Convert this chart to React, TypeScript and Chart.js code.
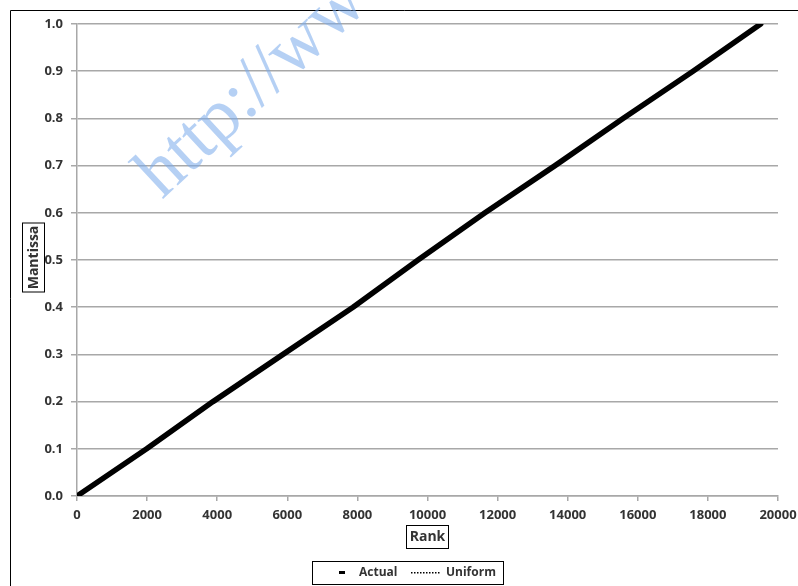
import React, { useEffect, useRef } from "react";
import { Chart, registerables } from "chart.js";

Chart.register(...registerables);

const actualRank = [0, 1988, 3880, 5877, 7875, 9729, 11640, 13638, 15578, 17575, 19506];
const actualMantissa = [0, 0.1, 0.2, 0.3, 0.4, 0.5, 0.6, 0.7, 0.8, 0.9, 1.0];
const uniformRank = [0, 19506];
const uniformMantissa = [0, 1.0];
const xTitle = "Rank";
const yTitle = "Mantissa";
const seriesNames = ["Actual", "Uniform"];
const watermark = "http://www.";

const FONT = "'Open Sans', sans-serif";

const decorPlugin = {
  id: "decor",
  afterDraw(chart: any) {
    const ctx = chart.ctx as CanvasRenderingContext2D;
    ctx.save();
    // outer border
    ctx.strokeStyle = "#000";
    ctx.lineWidth = 1;
    ctx.beginPath();
    ctx.moveTo(10.5, 600);
    ctx.lineTo(10.5, 10.5);
    ctx.lineTo(800, 10.5);
    ctx.stroke();

    // watermark
    ctx.save();
    ctx.translate(162, 200);
    ctx.rotate((-43 * Math.PI) / 180);
    ctx.font = "74px 'Liberation Serif', serif";
    ctx.fillStyle = "rgba(120,170,235,0.55)";
    ctx.textBaseline = "alphabetic";
    ctx.fillText(watermark, 0, 0);
    ctx.restore();

    ctx.fillStyle = "#333";
    ctx.strokeStyle = "#000";
    ctx.lineWidth = 1;

    // x title box
    ctx.font = `bold 14px ${FONT}`;
    ctx.textAlign = "center";
    ctx.textBaseline = "middle";
    const xa = chart.chartArea;
    const cx = (xa.left + xa.right) / 2;
    ctx.strokeRect(406.5, 525.5, 42, 23);
    ctx.fillText(xTitle, cx, 537.5);

    // y title box (rotated)
    ctx.save();
    ctx.translate(33, 257.5);
    ctx.rotate(-Math.PI / 2);
    ctx.strokeRect(-34.5, -10.5, 69, 22);
    ctx.fillText(yTitle, 0, 1);
    ctx.restore();

    // legend box
    ctx.strokeRect(312.5, 561.5, 191, 23);
    ctx.fillStyle = "#000";
    ctx.fillRect(339, 571, 6, 3);
    ctx.font = `bold 12px ${FONT}`;
    ctx.textAlign = "left";
    ctx.fillStyle = "#333";
    ctx.fillText(seriesNames[0], 359, 573);
    ctx.fillStyle = "#000";
    for (let x = 411; x < 441; x += 3) ctx.fillRect(x, 572, 1.5, 1.5);
    ctx.fillStyle = "#333";
    ctx.fillText(seriesNames[1], 446, 573);
    ctx.restore();
  },
};

export default function App() {
  const ref = useRef<HTMLCanvasElement | null>(null);
  useEffect(() => {
    document.body.style.margin = "0";
    const chart = new Chart(ref.current as HTMLCanvasElement, {
      type: "scatter",
      data: {
        datasets: [
          {
            label: seriesNames[1],
            data: uniformRank.map((x, i) => ({ x, y: uniformMantissa[i] })),
            showLine: true,
            borderColor: "#000",
            borderWidth: 1,
            borderDash: [1, 2],
            pointRadius: 0,
            order: 2,
          },
          {
            label: seriesNames[0],
            data: actualRank.map((x, i) => ({ x, y: actualMantissa[i] })),
            showLine: true,
            borderColor: "#000",
            borderWidth: 5.5,
            borderCapStyle: "round",
            borderJoinStyle: "round",
            pointRadius: 0,
            order: 1,
          },
        ],
      },
      options: {
        animation: false,
        responsive: false,
        maintainAspectRatio: false,
        layout: { padding: { left: 0, top: 24, right: 20, bottom: 0 } },
        plugins: { legend: { display: false }, tooltip: { enabled: false } },
        scales: {
          x: {
            type: "linear",
            min: 0,
            max: 20000,
            afterFit: (s: any) => {
              s.height = 90;
              s.paddingLeft = 0;
              s.paddingRight = 0;
            },
            ticks: {
              stepSize: 2000,
              maxRotation: 0,
              padding: 6,
              color: "#333",
              font: { family: FONT, size: 13, weight: "bold" },
              callback: (v: any) => String(v),
            },
            grid: {
              drawOnChartArea: false,
              drawTicks: true,
              tickLength: 5,
              color: "#a8a8a8",
              lineWidth: 1.5,
            },
            border: { display: true, color: "#a8a8a8", width: 1.5 },
          },
          y: {
            type: "linear",
            min: 0,
            max: 1,
            afterFit: (s: any) => {
              s.width = 77;
              s.paddingTop = 0;
              s.paddingBottom = 0;
            },
            ticks: {
              stepSize: 0.1,
              padding: 8,
              color: "#333",
              font: { family: FONT, size: 13, weight: "bold" },
              callback: (v: any) => Number(v).toFixed(1),
            },
            grid: {
              drawOnChartArea: true,
              drawTicks: true,
              tickLength: 6,
              color: "#a8a8a8",
              lineWidth: 1.5,
            },
            border: { display: true, color: "#a8a8a8", width: 1.5 },
          },
        },
      },
      plugins: [decorPlugin],
    } as any);
    return () => chart.destroy();
  }, []);
  return (
    <div style={{ position: "absolute", left: 0, top: 0, width: 798, height: 586, background: "#fff" }}>
      <canvas ref={ref} width={798} height={586} style={{ width: 798, height: 586, display: "block" }} />
    </div>
  );
}
